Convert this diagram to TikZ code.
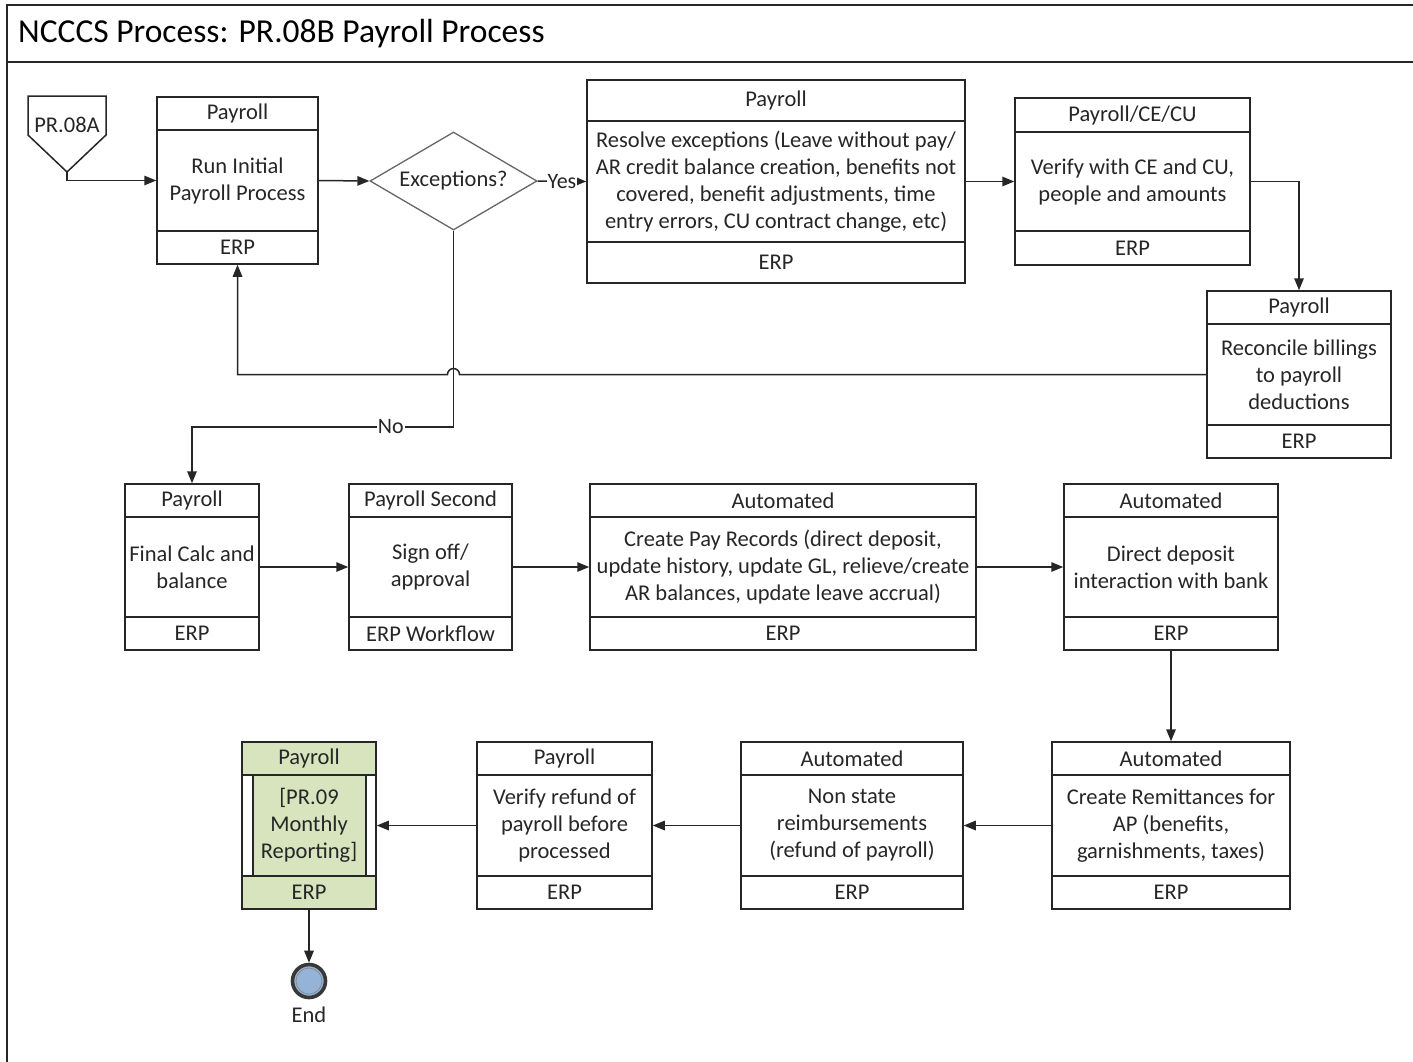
\documentclass[tikz,border=0pt]{standalone}
\usepackage{fontspec}
\setmainfont{Carlito}
\usetikzlibrary{arrows.meta,shapes.geometric}

\definecolor{inkgray}{HTML}{262626}
\definecolor{subfill}{HTML}{D7E4BD}
\definecolor{endfill}{HTML}{95B3D7}

% process box: name, x1, y1, x2, y2, band height, header, body, footer
\newcommand\procbox[9]{%
  \node[boxframe, minimum width={(#4)-(#2)}, minimum height={(#5)-(#3)}]
    (#1) at ({((#2)+(#4))/2},{((#3)+(#5))/2}) {};
  \draw[boxline] (#2,{(#3)+(#6)}) -- (#4,{(#3)+(#6)});
  \draw[boxline] (#2,{(#5)-(#6)}) -- (#4,{(#5)-(#6)});
  \node[txt] at ({((#2)+(#4))/2},{(#3)+(#6)/2}) {#7};
  \node[txt] at ({((#2)+(#4))/2},{((#3)+(#5))/2}) {#8};
  \node[txt] at ({((#2)+(#4))/2},{(#5)-(#6)/2}) {#9};
}

\begin{document}
\begin{tikzpicture}[x=1pt,y=-1pt,
  boxframe/.style={draw=inkgray, line width=1.5pt, rectangle, inner sep=0pt},
  boxline/.style={draw=inkgray, line width=1.5pt},
  txt/.style={font=\fontsize{22.5}{27}\selectfont, text=inkgray, align=center, inner sep=0pt},
  flow/.style={draw=inkgray, line width=1.5pt, -{Triangle[length=12pt,width=9.5pt]}},
  edgelbl/.style={font=\fontsize{22}{26}\selectfont, text=inkgray, fill=white, inner sep=1pt}]

\useasboundingbox (0,0) rectangle (1413,1061);

% page frame and title bar
\begin{scope}
  \clip (0,0) rectangle (1413,1061);
  \draw[inkgray, line width=1.8pt] (7,1080) -- (7,5) -- (1430,5);
  \draw[inkgray, line width=1.8pt] (7,62) -- (1430,62);
\end{scope}
\node[anchor=west, font=\fontsize{33.5}{38}\selectfont, text=black, inner sep=0pt] (title) at (18,34)
  {NCCCS Process: PR.08B Payroll Process};

% off-page reference
\draw[boxline, fill=white] (28,96) -- (106,96) -- (106,135) -- (67,172) -- (28,135) -- cycle;
\node[txt] (pr08a) at (67,125) {PR.08A};
\coordinate (pr08tip) at (67,172);

% top row
\procbox{runinit}{157}{97}{318}{264}{33}{Payroll}{Run Initial\\Payroll Process}{ERP}
\node[diamond, draw=black!60, line width=1.3pt, minimum width=167pt, minimum height=98pt,
  aspect=1.7, inner sep=0pt, txt] (exc) at (453.5,181) {Exceptions?};
\procbox{resolve}{587}{80}{965}{283}{41}{Payroll}{Resolve exceptions (Leave without pay/\\AR credit balance creation, benefits not\\covered, benefit adjustments, time\\entry errors, CU contract change, etc)}{ERP}
\procbox{verify}{1015}{98}{1250}{265}{34}{Payroll/CE/CU}{Verify with CE and CU,\\people and amounts}{ERP}
\procbox{recon}{1207}{291}{1391}{458}{33}{Payroll}{Reconcile billings\\to payroll\\deductions}{ERP}

% middle row
\procbox{final}{125}{484}{259}{650}{33}{Payroll}{Final Calc and\\balance}{ERP}
\procbox{signoff}{349}{484}{512}{650}{33}{Payroll Second}{Sign off/\\approval}{ERP Workflow}
\procbox{paycreate}{590}{484}{976}{650}{33}{Automated}{Create Pay Records (direct deposit,\\update history, update GL, relieve/create\\AR balances, update leave accrual)}{ERP}
\procbox{direct}{1064}{484}{1278}{650}{33}{Automated}{Direct deposit\\interaction with bank}{ERP}

% bottom row
\procbox{remit}{1052}{742}{1290}{909}{33}{Automated}{Create Remittances for\\AP (benefits,\\garnishments, taxes)}{ERP}
\procbox{nonstate}{741}{742}{963}{909}{33}{Automated}{Non state\\reimbursements\\(refund of payroll)}{ERP}
\procbox{refund}{477}{742}{652}{909}{33}{Payroll}{Verify refund of\\payroll before\\processed}{ERP}

% linked sub-process
\fill[subfill] (242,742) rectangle (376,775);
\fill[subfill] (242,876) rectangle (376,909);
\fill[subfill] (253,775) rectangle (366,876);
\procbox{monthly}{242}{742}{376}{909}{33}{Payroll}{[PR.09\\Monthly\\Reporting]}{ERP}
\draw[boxline] (253,775) -- (253,876);
\draw[boxline] (366,775) -- (366,876);

% end event
\node[circle, draw=black!78, line width=3.6pt, fill=endfill, minimum size=33pt, inner sep=0pt] (endev) at (309,981) {};
\draw[black!45, line width=0.8pt] (endev.center) circle[radius=13pt];
\node[txt] (endlbl) at (309,1015) {End};

% connectors
\draw[flow] (pr08tip) |- (runinit.west);
\draw[flow] (runinit.east) -- (exc.west);
\draw[flow] (exc.east) -- node[edgelbl] {Yes} (resolve.west);
\draw[flow] (resolve.east) -- (verify.west);
\draw[flow] (verify.east) -| (recon.north);
\draw[flow] (recon.west) -- ([xshift=6pt]recon.west -| exc.south)
  arc[start angle=0, end angle=180, radius=6pt]
  -- (recon.west -| runinit.south) -- (runinit.south);
\coordinate (nobend) at (453.5,427);
\draw[flow] (exc.south) -- (nobend) -| node[edgelbl, pos=0.12] {No} (final.north);
\draw[flow] (final.east) -- (signoff.west);
\draw[flow] (signoff.east) -- (paycreate.west);
\draw[flow] (paycreate.east) -- (direct.west);
\draw[flow] (direct.south) -- (remit.north);
\draw[flow] (remit.west) -- (nonstate.east);
\draw[flow] (nonstate.west) -- (refund.east);
\draw[flow] (refund.west) -- (monthly.east);
\draw[flow] (monthly.south) -- (endev.north);
\end{tikzpicture}
\end{document}
